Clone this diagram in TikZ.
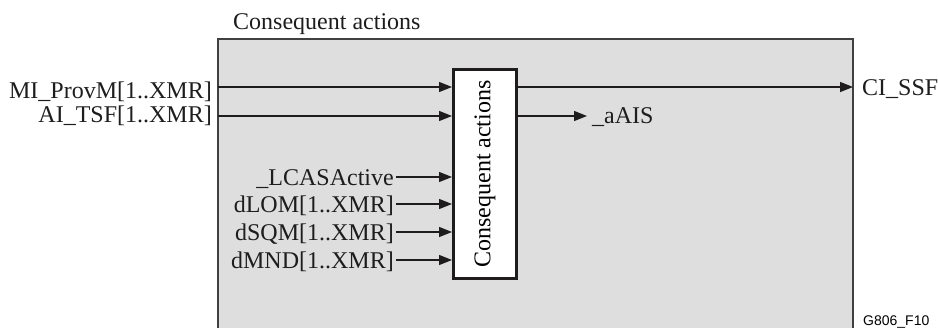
\documentclass[tikz,border=0pt]{standalone}
\usepackage{fontspec}
\setmainfont{Liberation Serif}
\newfontfamily\tagfont{Liberation Sans}
\usepackage{tikz}
\usetikzlibrary{arrows.meta,positioning,calc}
\definecolor{framegray}{RGB}{222,222,222}
\definecolor{frameline}{RGB}{64,64,64}
\definecolor{inkblack}{RGB}{30,28,28}
\tikzset{
  sigtext/.style={
    inner sep=0pt,
    text=inkblack,
    font=\fontsize{24}{28}\selectfont
  },
  actbox/.style={
    rectangle,
    draw=inkblack,
    line width=2.6pt,
    fill=white,
    minimum width=63.4pt,
    minimum height=209.4pt,
    inner sep=0pt,
    font=\fontsize{24}{28}\selectfont
  },
  flow/.style={-{Triangle[length=13pt,width=10pt]}, line width=1.4pt, inkblack}
}

\begin{document}
\begin{tikzpicture}[x=1pt,y=-1pt]
\useasboundingbox (0,0) rectangle (938,327);
% grey frame, open at the bottom
\fill[framegray] (218,39) rectangle (853,330);
\draw[frameline, line width=1.5pt] (218,330) |- (853,39) -- (853,330);
\node[sigtext, anchor=base west] (title) at (233,29) {Consequent actions};
\node[actbox] (ca) at (485,174) {\rotatebox{90}{Consequent actions}};
% inputs from outside the frame
\coordinate (provm) at (218,87);
\coordinate (tsf) at (218,116);
\node[sigtext, anchor=base east] (provmlbl) at (212,98) {MI\_ProvM[1..XMR]};
\node[sigtext, anchor=base east] (tsflbl) at (212,122) {AI\_TSF[1..XMR]};
\draw[flow] (provm) -- (provm -| ca.west);
\draw[flow] (tsf) -- (tsf -| ca.west);
% inputs inside the frame
\coordinate (lcas) at (396,177);
\coordinate (dlom) at (396,204);
\coordinate (dsqm) at (396,232);
\coordinate (dmnd) at (396,260);
\node[sigtext, anchor=base east] (lcaslbl) at (394,185) {\_LCASActive};
\node[sigtext, anchor=base east] (dlomlbl) at (394,212) {dLOM[1..XMR]};
\node[sigtext, anchor=base east] (dsqmlbl) at (394,240) {dSQM[1..XMR]};
\node[sigtext, anchor=base east] (dmndlbl) at (394,268) {dMND[1..XMR]};
\draw[flow] (lcas) -- (lcas -| ca.west);
\draw[flow] (dlom) -- (dlom -| ca.west);
\draw[flow] (dsqm) -- (dsqm -| ca.west);
\draw[flow] (dmnd) -- (dmnd -| ca.west);
% outputs
\coordinate (ssf) at (853,87);
\coordinate (aais) at (587,116);
\draw[flow] (ssf -| ca.east) -- (ssf);
\draw[flow] (aais -| ca.east) -- (aais);
\node[sigtext, anchor=base west] (ssflbl) at (862,95) {CI\_SSF};
\node[sigtext, anchor=base west] (aaislbl) at (592,123) {\_aAIS};
\node[inner sep=0pt, anchor=base west, font=\tagfont\fontsize{14}{16}\selectfont] (tag) at (863,325) {G806\_F10};
\end{tikzpicture}
\end{document}
